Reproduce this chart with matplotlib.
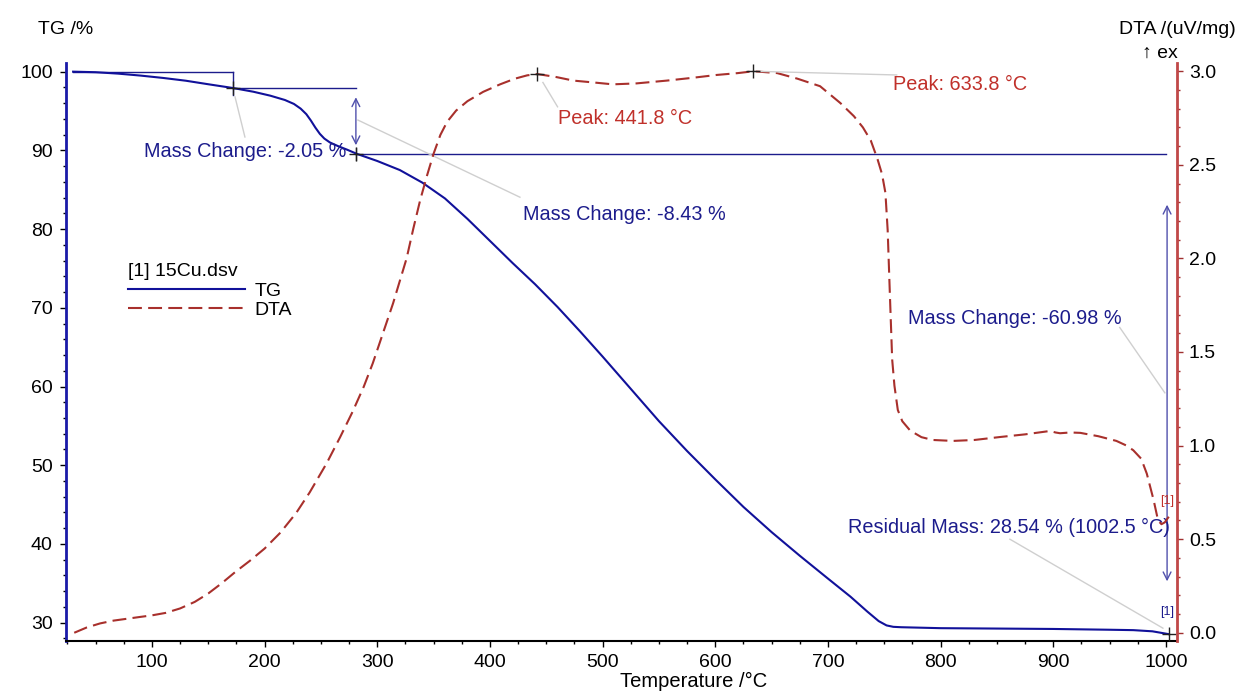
import matplotlib
matplotlib.use("Agg")
import matplotlib.pyplot as plt
from matplotlib.ticker import MultipleLocator, FormatStrFormatter

plt.rcParams['font.family'] = ['Liberation Sans', 'DejaVu Sans']
plt.rcParams['lines.scale_dashes'] = False

# TG curve (temperature /°C, mass /%)
tg_temp = [30, 50, 70, 90, 110, 130, 150, 172, 190, 205, 218, 226, 232, 237, 241,
           245, 249, 253, 258, 265, 273, 282, 300, 320, 340, 360, 380, 400, 420,
           440, 460, 480, 500, 525, 550, 575, 600, 625, 650, 675, 700, 720, 735,
           745, 752, 758, 765, 800, 850, 900, 950, 971, 988, 1002.5]
tg_mass = [100.0, 99.93, 99.75, 99.5, 99.2, 98.85, 98.4, 97.92, 97.45, 96.95,
           96.4, 95.9, 95.3, 94.6, 93.8, 92.9, 92.1, 91.5, 91.0, 90.55, 90.1, 89.55,
           88.65, 87.5, 85.9, 83.9, 81.3, 78.5, 75.7, 73.0, 70.1, 67.0, 63.8, 59.7,
           55.6, 51.8, 48.2, 44.7, 41.5, 38.5, 35.6, 33.3, 31.4, 30.2, 29.65, 29.47,
           29.42, 29.3, 29.25, 29.2, 29.1, 29.05, 28.9, 28.54]

# DTA curve (temperature /°C, uV/mg)
dta_temp = [31, 42, 54, 66, 78, 90, 100, 112, 125, 138, 150, 162, 174, 187, 200,
            214, 228, 240, 255, 267, 278, 288, 296, 305, 314, 320, 326, 332, 338,
            344, 350, 356, 362, 370, 380, 394, 409, 422, 433, 442, 458, 474, 492,
            509, 530, 557, 580, 601, 620, 634, 655, 673, 693, 711, 723, 731, 738,
            744, 748, 751, 753, 755, 757, 759, 762, 766, 773, 783, 793, 811, 830,
            853, 875, 897, 902, 906, 915, 924, 940, 956, 965, 971, 978, 983, 989,
            993, 996, 999, 1002.5]
dta_val = [0.0, 0.028, 0.05, 0.065, 0.075, 0.085, 0.093, 0.106, 0.13, 0.165, 0.21,
           0.265, 0.325, 0.385, 0.45, 0.535, 0.64, 0.75, 0.905, 1.045, 1.18, 1.315,
           1.44, 1.6, 1.76, 1.88, 2.0, 2.16, 2.31, 2.44, 2.56, 2.66, 2.73, 2.79,
           2.84, 2.89, 2.93, 2.96, 2.978, 2.985, 2.97, 2.95, 2.94, 2.93, 2.935, 2.95,
           2.965, 2.98, 2.99, 3.0, 2.99, 2.96, 2.92, 2.83, 2.76, 2.70, 2.63, 2.53,
           2.45, 2.35, 2.15, 1.8, 1.46, 1.32, 1.19, 1.13, 1.08, 1.045, 1.03, 1.025,
           1.03, 1.046, 1.06, 1.078, 1.07, 1.066, 1.07, 1.068, 1.05, 1.025, 1.0,
           0.975, 0.93, 0.85, 0.71, 0.60, 0.58, 0.59, 0.62]

step1_temp, step2_temp, end_temp = 172, 281, 1002.5
start_mass, mass_1, mass_2, residual = 100.0, 97.95, 89.52, 28.54
peak_temps = [441.8, 633.8]
peak_vals = [2.985, 3.0]

blue = '#11119a'
navy = '#1c1c8c'
red = '#a8302c'
red_txt = '#c0302a'
arrow_col = '#5050ac'
grey = '#cfcfcf'
fs = 14

fig = plt.figure(figsize=(12.4, 6.95), dpi=100)
ax = fig.add_axes([66 / 1240, 1 - 641 / 695, 1111 / 1240, 578 / 695])
ax2 = ax.twinx()

ln_tg, = ax.plot(tg_temp, tg_mass, color=blue, lw=1.5, label='TG', zorder=3)
ln_dta, = ax2.plot(dta_temp, dta_val, color=red, lw=1.5, dashes=(10, 4.5), label='DTA')

ax.set_xlim(23.7, 1009.8)
ax.set_ylim(27.67, 101.1)
ax2.set_ylim(-0.044, 3.044)

ax.xaxis.set_major_locator(MultipleLocator(100))
ax.xaxis.set_minor_locator(MultipleLocator(25))
ax.yaxis.set_major_locator(MultipleLocator(10))
ax.yaxis.set_minor_locator(MultipleLocator(2))
ax2.yaxis.set_major_locator(MultipleLocator(0.5))
ax2.yaxis.set_minor_locator(MultipleLocator(0.1))
ax2.yaxis.set_major_formatter(FormatStrFormatter('%.1f'))

for a in (ax, ax2):
    a.spines['top'].set_visible(False)
ax.spines['right'].set_visible(False)
ax2.spines['left'].set_visible(False)
ax2.spines['bottom'].set_visible(False)
ax.spines['left'].set_color('#1a1aa8')
ax.spines['left'].set_linewidth(2)
ax2.spines['right'].set_color('#c04848')
ax2.spines['right'].set_linewidth(2)
ax.spines['bottom'].set_linewidth(1.5)

ax.tick_params(axis='both', which='major', length=4.5, width=1, labelsize=fs, pad=5)
ax.tick_params(axis='both', which='minor', length=2.5, width=1)
ax2.tick_params(axis='y', which='major', length=4.5, width=1, labelsize=fs, pad=4,
                color='#a03030')
ax2.tick_params(axis='y', which='minor', length=2.5, width=1, color='#a03030')

ax.set_xlabel('Temperature /°C', fontsize=14.5, va='top')
ax.xaxis.set_label_coords((694 - 66) / 1111, -(672 - 641) / 578)
fig.text(38 / 1240, 1 - 30 / 695, 'TG /%', fontsize=fs, ha='left', va='center')
fig.text(1236 / 1240, 1 - 30 / 695, 'DTA /(uV/mg)', fontsize=fs, ha='right', va='center')
fig.text(1178 / 1240, 1 - 53 / 695, '↑ ex', fontsize=fs, ha='right', va='center')

# mass change construction lines
ax.plot([30, step1_temp], [start_mass, start_mass], color=navy, lw=1)
ax.plot([step1_temp, step1_temp], [start_mass, 97.07], color=navy, lw=1)
ax.plot([step1_temp, step2_temp], [mass_1, mass_1], color=navy, lw=1)
ax.plot([step2_temp, step2_temp], [90.3, 88.8], color='#505050', lw=1)
ax.plot([step2_temp, 1000], [mass_2, mass_2], color=navy, lw=1)
ax.annotate('', xy=(step2_temp, 90.3), xytext=(step2_temp, 97.1),
            arrowprops=dict(arrowstyle='<->', color=arrow_col, lw=1, mutation_scale=14))
ax.annotate('', xy=(1001, 34.9), xytext=(1001, 83.45),
            arrowprops=dict(arrowstyle='<->', color=arrow_col, lw=1, mutation_scale=14))
ax.plot([step1_temp, step2_temp, end_temp], [mass_1, mass_2, residual], ls='none',
        marker='+', ms=10, mew=1, color='#202020', zorder=4)

# leader lines
ax.plot([173.7, 182.5], [96.8, 91.7], color=grey, lw=1)
ax.plot([282.8, 426.6], [93.85, 84.05], color=grey, lw=1)
ax.plot([959, 999], [67.5, 59.2], color=grey, lw=1)
ax.plot([861.5, 997.3], [40.6, 29.3], color=grey, lw=1)
ax2.plot([447, 460], [2.94, 2.81], color=grey, lw=1)
ax2.plot([633.8, 761], [3.0, 2.98], color=grey, lw=1)

ann = dict(fontsize=14.3, color=navy, va='center', ha='left')
ax.text(93, 89.8, 'Mass Change: -2.05 %', **ann)
ax.text(429, 81.9, 'Mass Change: -8.43 %', **ann)
ax.text(771, 68.65, 'Mass Change: -60.98 %', **ann)
ax.text(717.7, 42.05, 'Residual Mass: 28.54 % (1002.5 °C)', **ann)
ax.text(1001, 31.3, '[1]', fontsize=9, color=navy, ha='center', va='center')

ax2.plot(peak_temps, peak_vals, ls='none', marker='+', ms=10, mew=1, color='#202020')
ax2.text(460.3, 2.75, 'Peak: 441.8 °C', fontsize=14.3, color=red_txt, va='center', ha='left')
ax2.text(757.7, 2.93, 'Peak: 633.8 °C', fontsize=14.3, color=red_txt, va='center', ha='left')
ax2.text(1001, 0.705, '[1]', fontsize=9, color=red_txt, ha='center', va='center')

leg = ax.legend([ln_tg, ln_dta], ['TG', 'DTA'], title='[1] 15Cu.dsv', frameon=False,
                loc='upper left', bbox_to_anchor=(0.056, 0.654), borderpad=0,
                borderaxespad=0, handlelength=6.0, handletextpad=0.5,
                labelspacing=0.1, fontsize=fs, title_fontsize=fs,
                alignment='left')

fig.savefig('out.png', dpi=100)
